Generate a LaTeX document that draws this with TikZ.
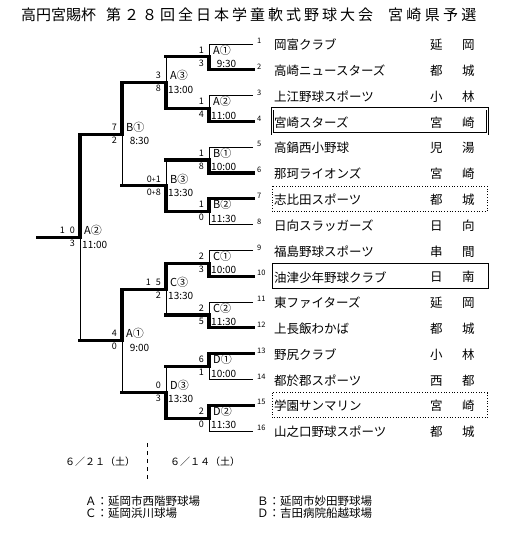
\documentclass[tikz,border=0pt]{standalone}
\usepackage{fontspec}
\setmainfont{Noto Sans CJK JP}
\usepackage{tikz}

\begin{document}
\begin{tikzpicture}[
    x=1pt, y=-1pt,
    line/.style={line width=0.8pt},
    win/.style={line width=3.2pt, line cap=rect},
    team/.style={anchor=west, inner sep=0pt, font=\fontsize{12.5}{12.5}\selectfont},
    num/.style={anchor=west, inner sep=0pt, font=\fontsize{7.5}{7.5}\selectfont},
    lbl/.style={anchor=west, inner sep=0pt, font=\fontsize{11}{11}\selectfont},
    tm/.style={anchor=west, inner sep=0pt, font=\fontsize{10}{10}\selectfont},
    score/.style={anchor=east, inner sep=0pt, font=\fontsize{9}{9}\selectfont},
    date/.style={anchor=west, inner sep=0pt, font=\fontsize{10}{10}\selectfont},
    note/.style={anchor=west, inner sep=0pt, font=\fontsize{11.5}{11.5}\selectfont},
    ttl/.style={anchor=west, inner sep=0pt, font=\fontsize{15}{15}\selectfont}
]
    \useasboundingbox (0,0) rectangle (505,534);

    % title
    \node[ttl] (ttl1) at (21,15) {高円宮賜杯};
    \node[ttl] (ttl2) at (106,15) {\addfontfeature{LetterSpace=20}第２８回全日本学童軟式野球大会};
    \node[ttl] (ttl3) at (388,15) {\addfontfeature{LetterSpace=22}宮崎県予選};

    % teams
    \foreach \i/\nm/\ra/\rb in {
        1/岡富クラブ/延/岡, 2/高崎ニュースターズ/都/城, 3/上江野球スポーツ/小/林, 4/宮崎スターズ/宮/崎,
        5/高鍋西小野球/児/湯, 6/那珂ライオンズ/宮/崎, 7/志比田スポーツ/都/城, 8/日向スラッガーズ/日/向,
        9/福島野球スポーツ/串/間, 10/油津少年野球クラブ/日/南, 11/東ファイターズ/延/岡, 12/上長飯わかば/都/城,
        13/野尻クラブ/小/林, 14/都於郡スポーツ/西/都, 15/学園サンマリン/宮/崎, 16/山之口野球スポーツ/都/城} {
        \coordinate (t\i) at (253,{44+25.8*(\i-1)});
        \node[num] (k\i) at (257,{41+25.8*(\i-1)}) {\i};
        \node[team] (n\i) at (274,{45+25.8*(\i-1)}) {\nm};
        \node[team] (r\i) at (430,{45+25.8*(\i-1)}) {\ra\hspace{19.5pt}\rb};
    }

    % boxes round the placed teams
    \draw[line width=0.6pt, double, double distance=1.8pt] (272.5,108.9) rectangle (487.5,133.9);
    \draw[line width=0.7pt] (272,263.7) rectangle (488,288.7);
    \draw[line width=0.7pt, dotted] (272,186.3) rectangle (487,211.3);
    \draw[line width=0.7pt, dotted] (272,392.7) rectangle (487,417.7);

    % matches
    \coordinate (m1) at (209,56.9);
    \coordinate (m2) at (209,108.5);
    \coordinate (m3) at (209,160.1);
    \coordinate (m4) at (209,211.7);
    \coordinate (m5) at (209,263.3);
    \coordinate (m6) at (209,314.9);
    \coordinate (m7) at (209,366.5);
    \coordinate (m8) at (209,418.1);
    \coordinate (q1) at (166,82.7);
    \coordinate (q2) at (166,185.9);
    \coordinate (q3) at (166,289.1);
    \coordinate (q4) at (166,392.3);
    \coordinate (s1) at (122,134.3);
    \coordinate (s2) at (122,340.7);
    \coordinate (f) at (80,237.5);
    \coordinate (champ) at (38,237.5);

    \foreach \m/\a/\b in {m1/t1/t2, m2/t3/t4, m3/t5/t6, m4/t7/t8, m5/t9/t10, m6/t11/t12, m7/t13/t14, m8/t15/t16}
        \draw[line] (\a) -- (\m |- \a) -- (\m |- \b) -- (\b);
    \foreach \m/\a/\b in {q1/m1/m2, q2/m3/m4, q3/m5/m6, q4/m7/m8, s1/q1/q2, s2/q3/q4, f/s1/s2}
        \draw[line] (\m |- \a) -- (\m |- \b);

    % winners
    \foreach \m/\w/\p in {m1/t2/q1, m2/t4/q1, m3/t6/q2, m4/t7/q2, m5/t10/q3, m6/t12/q3, m7/t13/q4, m8/t15/q4,
                          q1/m2/s1, q2/m4/s1, q3/m5/s2, q4/m8/s2, s1/q1/f, s2/q3/f, f/s1/champ}
        \draw[win] (\w) -| (\m) -- (\m -| \p);

    % ground, time and score of each match
    \foreach \m/\lab/\tim/\sa/\sb in {
        m1/A①/\phantom{1}9:30/1/3, m2/A②/11:00/1/4, m3/B①/10:00/1/8, m4/B②/11:30/1/0,
        m5/C①/10:00/2/3, m6/C②/11:30/2/5, m7/D①/10:00/6/1, m8/D②/11:30/2/0,
        q1/A③/13:00/3/8, q2/B③/13:30/{0{\scriptsize+}1}/{0{\scriptsize+}8}, q3/C③/13:30/1\hspace{5pt}5/2, q4/D③/13:30/0/3,
        s1/B①/\phantom{1}8:30/7/2, s2/A①/\phantom{1}9:00/4/0, f/A②/11:00/1\hspace{5pt}0/3} {
        \node[lbl] (l\m) at ([shift={(4,-7)}]\m) {\lab};
        \node[tm] (h\m) at ([shift={(2,7)}]\m) {\tim};
        \node[score] (a\m) at ([shift={(-5,-7)}]\m) {\sa};
        \node[score] (b\m) at ([shift={(-5,6)}]\m) {\sb};
    }

    % dates
    \node[date] (d1) at (65,462) {６／２１（土）};
    \node[date] (d2) at (170,462) {６／１４（土）};
    \coordinate (sepT) at (147,443);
    \coordinate (sepB) at (147,480);
    \draw[line, dash pattern=on 4pt off 4pt] (sepT) -- (sepB);

    % grounds
    \node[note] (ga) at (85,501.5) {Ａ：延岡市西階野球場};
    \node[note] (gc) at (85,513) {Ｃ：延岡浜川球場};
    \node[note] (gb) at (257,501.5) {Ｂ：延岡市妙田野球場};
    \node[note] (gd) at (257,513) {Ｄ：吉田病院船越球場};
\end{tikzpicture}
\end{document}
